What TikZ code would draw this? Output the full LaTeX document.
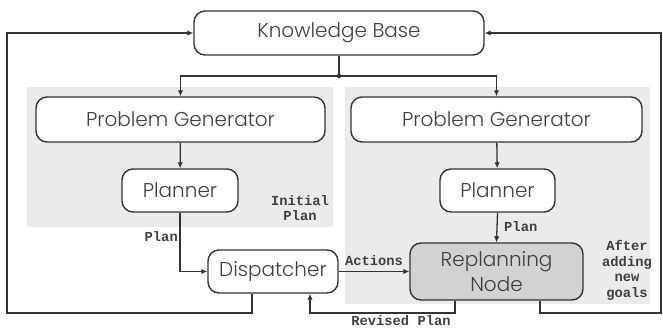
\documentclass[tikz,border=0pt]{standalone}
\usepackage{fontspec}
\setmainfont{Poppins}[UprightFont={* Light}]
\newfontfamily\lblfont{Liberation Mono}
\usetikzlibrary{arrows.meta}
\definecolor{ln}{HTML}{333333}
\definecolor{txt}{HTML}{404040}
\definecolor{panel}{HTML}{EBEBEB}
\definecolor{rnfill}{HTML}{D2D2D2}
\begin{document}
\begin{tikzpicture}[x=1pt,y=-1pt,
  box/.style={draw=ln,line width=1.4pt,rounded corners=11pt,fill=white,inner sep=0pt,
    text=txt,font=\fontsize{20}{25}\selectfont,align=center},
  conn/.style={draw=ln,line width=1.3pt},
  arr/.style={conn,-{Latex[length=6pt,width=5.5pt]}},
  lbl/.style={font=\lblfont\bfseries\fontsize{13.8}{15.6}\selectfont,text=txt,inner sep=0pt,align=center}]
\useasboundingbox (0,0) rectangle (663,329);
% panels
\fill[panel] (27,87) rectangle (333,227);
\fill[panel] (345,87) rectangle (650,304);
% nodes
\node[box,minimum width=290pt,minimum height=44pt] (kb) at (339,33) {Knowledge Base};
\node[box,minimum width=289pt,minimum height=45pt] (pgl) at (180.5,119.5) {Problem Generator};
\node[box,minimum width=291pt,minimum height=45pt] (pgr) at (496.5,119.5) {Problem Generator};
\node[box,minimum width=116pt,minimum height=43pt] (pll) at (180,190.5) {Planner};
\node[box,minimum width=115pt,minimum height=43pt] (plr) at (497.5,190.5) {Planner};
\node[box,minimum width=130pt,minimum height=43pt] (dis) at (273,271.5) {Dispatcher};
\node[box,fill=rnfill,minimum width=173pt,minimum height=57pt] (rn) at (496.5,271.5) {Replanning\\Node};
% KB distribution
\coordinate (j) at (339,76);
\draw[conn] (kb.south) -- (j);
\fill[ln] (j) circle (2.2pt);
\draw[arr] (j) -| (pgl.north);
\draw[arr] (j) -| (pgr.north);
% PG -> Planner
\draw[arr] (pgl) -- (pll);
\draw[arr] (pgr) -- (plr);
% Plan left
\draw[arr] (pll.south) |- (dis.west);
\node[lbl,anchor=east] (plabl) at (178,237) {Plan};
\node[lbl] (init) at (300,208) {Initial\\Plan};
% Plan right
\draw[arr] (plr.south) -- (rn.north);
\node[lbl,anchor=west] (plabr) at (504,227) {Plan};
% Actions
\draw[arr] (dis.east) -- (rn.west);
\node[lbl] (act) at (374,261) {Actions};
% After adding new goals
\node[lbl] (after) at (627,270.5) {After\\adding\\new\\goals};
% Revised plan
\coordinate (rv1) at (455,313);
\coordinate (rv2) at (310,313);
\draw[arr] (rn.south -| rv1) -- (rv1) -- (rv2) -- (rv2 |- dis.south);
\node[lbl] (rev) at (401,321) {Revised Plan};
% outer left feedback
\coordinate (ol1) at (252,313);
\coordinate (ol2) at (7,313);
\coordinate (ol3) at (7,33);
\draw[arr] (dis.south -| ol1) -- (ol1) -- (ol2) -- (ol3) -- (kb.west);
% outer right feedback
\coordinate (or1) at (540,313);
\coordinate (or2) at (661,313);
\coordinate (or3) at (661,33);
\draw[arr] (rn.south -| or1) -- (or1) -- (or2) -- (or3) -- (kb.east);
\end{tikzpicture}
\end{document}
